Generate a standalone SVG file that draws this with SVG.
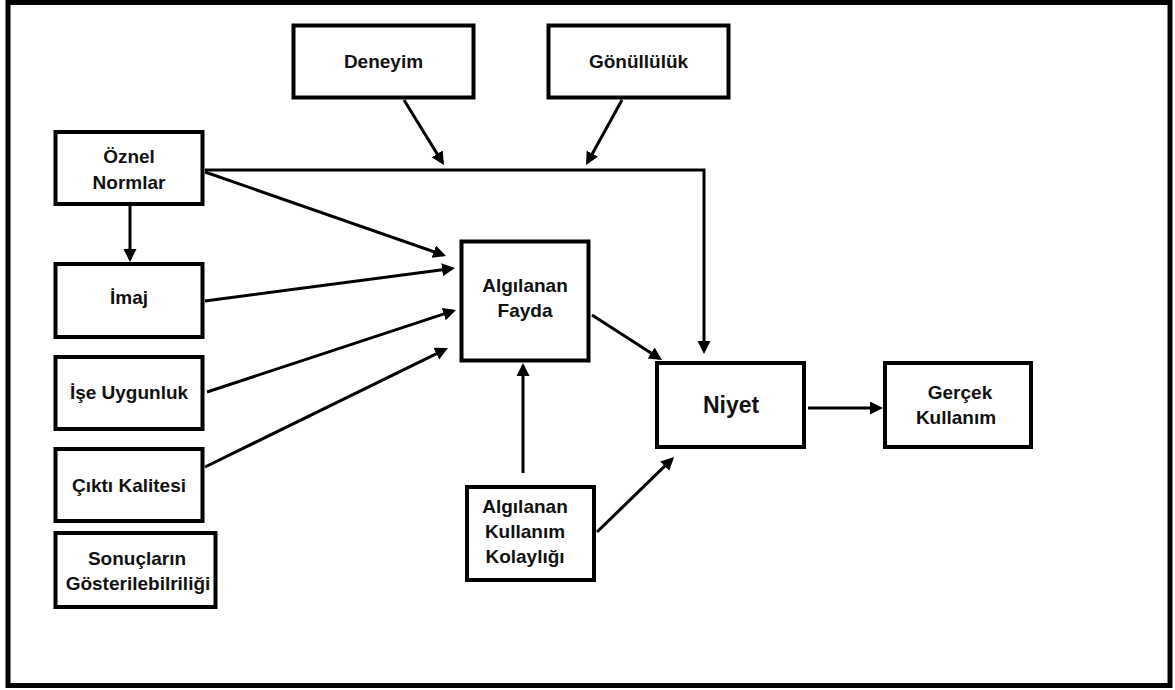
<svg xmlns="http://www.w3.org/2000/svg" width="1175" height="690" viewBox="0 0 1175 690">
<style>
.box{fill:#fff;stroke:#000;stroke-width:4}
.t{font-family:"Liberation Sans",Arial,sans-serif;font-weight:bold;font-size:19px;fill:#111;text-anchor:middle}
.big{font-size:23px}
.c{fill:none;stroke:#000;stroke-width:3;stroke-linejoin:miter}
.a{marker-end:url(#ah)}
</style>
<defs>
<marker id="ah" markerUnits="userSpaceOnUse" markerWidth="14" markerHeight="14" refX="10" refY="6.5" orient="auto">
<path d="M0,0 L13,6.5 L0,13 z" fill="#000"/>
</marker>
</defs>
<rect x="0" y="0" width="1175" height="690" fill="#fff"/>
<rect x="8" y="2.5" width="1162" height="683" fill="none" stroke="#000" stroke-width="5"/>
<g id="connectors">
<path class="c a" d="M130,205 V259"/>
<path class="c a" d="M205,170 H704 V351"/>
<path class="c a" d="M404,100 L442.4,162.4"/>
<path class="c a" d="M622,100 L587.5,162.4"/>
<path class="c a" d="M205,172 L443.2,255"/>
<path class="c a" d="M205,301 L452,268.4"/>
<path class="c a" d="M207,392 L453.2,310.9"/>
<path class="c a" d="M205,467 L445.3,349.3"/>
<path class="c a" d="M592,315 L659.5,358.4"/>
<path class="c a" d="M523,473 V366"/>
<path class="c a" d="M597,532 L671.9,459.1"/>
<path class="c a" d="M808,408 H880"/>
</g>
<g id="deneyim"><rect class="box" x="293.5" y="25.5" width="180" height="72"/><text class="t" x="383.5" y="67.5">Deneyim</text></g>
<g id="gonulluluk"><rect class="box" x="548.5" y="25.5" width="180" height="72"/><text class="t" x="638.5" y="67.5">Gönüllülük</text></g>
<g id="oznel-normlar"><rect class="box" x="55.5" y="132" width="147" height="72"/><text class="t" x="129" y="163">Öznel</text><text class="t" x="129" y="189">Normlar</text></g>
<g id="imaj"><rect class="box" x="55.5" y="264" width="147" height="73"/><text class="t" x="129" y="304">İmaj</text></g>
<g id="ise-uygunluk"><rect class="box" x="55.5" y="357" width="147" height="72"/><text class="t" x="129" y="399">İşe Uygunluk</text></g>
<g id="cikti-kalitesi"><rect class="box" x="55.5" y="449" width="147" height="72"/><text class="t" x="129" y="492">Çıktı Kalitesi</text></g>
<g id="sonuclarin"><rect class="box" x="55.5" y="533" width="160" height="74"/><text class="t" x="137" y="565">Sonuçların</text><text class="t" x="138" y="590">Gösterilebilriliği</text></g>
<g id="algilanan-fayda"><rect class="box" x="461.5" y="241.5" width="127" height="119"/><text class="t" x="525" y="292">Algılanan</text><text class="t" x="525" y="317">Fayda</text></g>
<g id="niyet"><rect class="box" x="657" y="363" width="147" height="84"/><text class="t big" x="731" y="413">Niyet</text></g>
<g id="kolaylik"><rect class="box" x="467" y="487" width="127" height="93"/><text class="t" x="525" y="513">Algılanan</text><text class="t" x="525" y="538">Kullanım</text><text class="t" x="525" y="563">Kolaylığı</text></g>
<g id="gercek-kullanim"><rect class="box" x="885" y="363" width="146" height="84"/><text class="t" x="960" y="399">Gerçek</text><text class="t" x="956" y="424">Kullanım</text></g>
</svg>
